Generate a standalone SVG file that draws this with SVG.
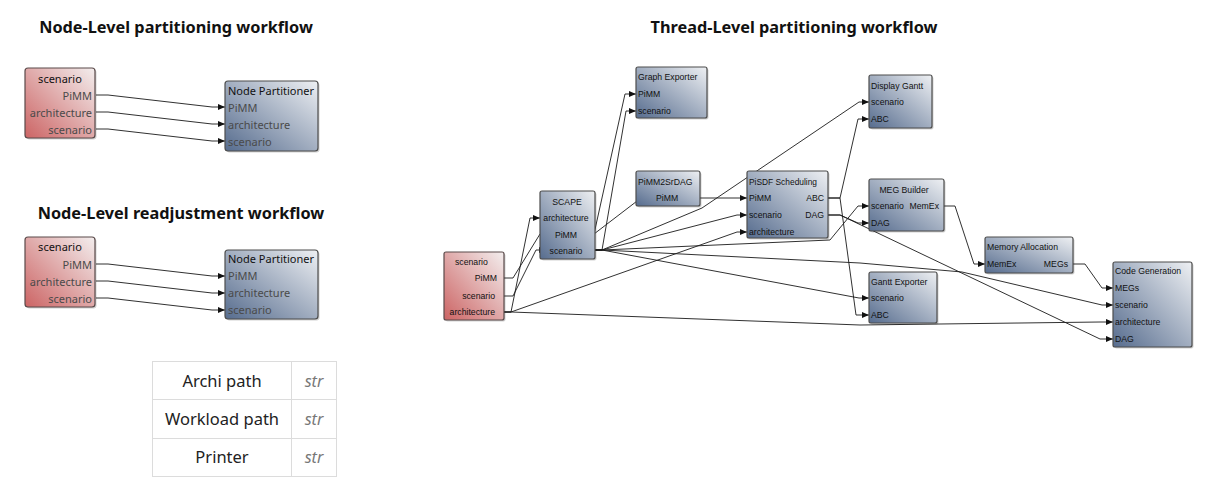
<svg xmlns="http://www.w3.org/2000/svg" width="1219" height="486" viewBox="0 0 1219 486">
<defs>
<linearGradient id="gBlue" x1="1" y1="0" x2="0" y2="1">
<stop offset="0" stop-color="#eef0f3"/>
<stop offset="1" stop-color="#566c8e"/>
</linearGradient>
<linearGradient id="gRed" x1="1" y1="0" x2="0" y2="1">
<stop offset="0" stop-color="#f3eeee"/>
<stop offset="1" stop-color="#cc6464"/>
</linearGradient>
<marker id="arr" markerUnits="userSpaceOnUse" markerWidth="8" markerHeight="8" refX="7" refY="4" orient="auto">
<path d="M0,1 L7,4 L0,7 z" fill="#111"/>
</marker>
</defs>
<style>
.title{font-family:"Noto Sans","Open Sans",sans-serif;font-weight:bold;font-size:16.3px;fill:#111;text-anchor:middle}
.bb{fill:url(#gBlue);stroke:#4d4d4d;stroke-width:1.2}
.rb{fill:url(#gRed);stroke:#5a4a4a;stroke-width:1.2}
.sh{fill:#000;opacity:0.18}
.lt{font-family:"Noto Sans","Open Sans",sans-serif;font-size:11px;fill:#111}
.lp{font-family:"Noto Sans","Open Sans",sans-serif;font-size:11px;fill:#4a4a4a}
.st{font-family:"Liberation Sans",Arial,sans-serif;font-size:8.7px;fill:#111}
.r{text-anchor:end}
.m{text-anchor:middle}
.c{fill:none;stroke:#1a1a1a;stroke-width:0.9}
.tb{fill:#fff;stroke:#dcdcdc;stroke-width:1}
.tt{font-family:"Noto Sans","Open Sans",sans-serif;font-size:16.5px;fill:#222;text-anchor:middle}
.ti{font-family:"Noto Sans","Open Sans",sans-serif;font-size:16px;font-style:italic;fill:#777;text-anchor:middle}
</style>
<rect width="1219" height="486" fill="#fff"/>

<text class="title" x="176" y="33">Node-Level partitioning workflow</text>
<text class="title" x="181" y="219">Node-Level readjustment workflow</text>
<text class="title" x="794" y="33">Thread-Level partitioning workflow</text>

<g id="connectors">
<polyline class="c" marker-end="url(#arr)" points="96,95 108,95 212,107 225,107"/>
<polyline class="c" marker-end="url(#arr)" points="96,112 108,112 212,124 225,124"/>
<polyline class="c" marker-end="url(#arr)" points="96,129 108,129 212,141 225,141"/>
<polyline class="c" marker-end="url(#arr)" points="96,264 108,264 212,276 225,276"/>
<polyline class="c" marker-end="url(#arr)" points="96,281 108,281 212,293 225,293"/>
<polyline class="c" marker-end="url(#arr)" points="96,298 108,298 212,310 225,310"/>
<polyline class="c" marker-end="url(#arr)" points="504,278 513,278 540,234 551,234"/>
<polyline class="c" marker-end="url(#arr)" points="504,296 513,296 536,250 546,250"/>
<polyline class="c" marker-end="url(#arr)" points="504,312 511,312 530,218 540,218"/>
<polyline class="c" marker-end="url(#arr)" points="504,312 511,312 737,232 747,232"/>
<polyline class="c" marker-end="url(#arr)" points="504,312 511,312 860,325 1100,322 1113,322"/>
<polyline class="c" marker-end="url(#arr)" points="583,234 594,234 625,94 636,94"/>
<polyline class="c" marker-end="url(#arr)" points="583,234 594,234 641,198 653,198"/>
<polyline class="c" marker-end="url(#arr)" points="590,250 602,250 626,111 636,111"/>
<polyline class="c" marker-end="url(#arr)" points="590,250 602,250 737,215 747,215"/>
<polyline class="c" marker-end="url(#arr)" points="590,250 602,250 702,208 859,102 869,102"/>
<polyline class="c" marker-end="url(#arr)" points="590,250 602,250 830,240 858,206 869,206"/>
<polyline class="c" marker-end="url(#arr)" points="590,250 602,250 859,298 869,298"/>
<polyline class="c" marker-end="url(#arr)" points="590,250 602,250 860,263 962,272 1102,305 1113,305"/>
<polyline class="c" marker-end="url(#arr)" points="683,198 747,198"/>
<polyline class="c" marker-end="url(#arr)" points="827,198 840,198 858,119 869,119"/>
<polyline class="c" marker-end="url(#arr)" points="827,198 840,198 856,315 869,315"/>
<polyline class="c" marker-end="url(#arr)" points="827,215 840,215 858,223 869,223"/>
<polyline class="c" marker-end="url(#arr)" points="827,215 840,215 1100,339 1113,339"/>
<polyline class="c" marker-end="url(#arr)" points="940,206 955,206 974,264 985,264"/>
<polyline class="c" marker-end="url(#arr)" points="1069,264 1085,264 1102,288 1113,288"/>
</g>

<g id="lt-scenario">
<rect class="sh" x="26.5" y="69.5" width="70" height="70" rx="3"/>
<rect class="rb" x="25" y="68" width="70" height="70" rx="3"/>
<text class="lt m" x="60" y="83">scenario</text>
<text class="lp r" x="92" y="99.5">PiMM</text>
<text class="lp r" x="92" y="116.5">architecture</text>
<text class="lp r" x="92" y="133.5">scenario</text>
</g>
<g id="lt-partitioner">
<rect class="sh" x="226.5" y="82.5" width="93" height="70" rx="3"/>
<rect class="bb" x="225" y="81" width="93" height="70" rx="3"/>
<text class="lt" x="228" y="95">Node Partitioner</text>
<text class="lp" x="228" y="111.5">PiMM</text>
<text class="lp" x="228" y="128.5">architecture</text>
<text class="lp" x="228" y="145.5">scenario</text>
</g>

<g id="lb-scenario">
<rect class="sh" x="26.5" y="238.5" width="70" height="70" rx="3"/>
<rect class="rb" x="25" y="237" width="70" height="70" rx="3"/>
<text class="lt m" x="60" y="251">scenario</text>
<text class="lp r" x="92" y="268.5">PiMM</text>
<text class="lp r" x="92" y="285.5">architecture</text>
<text class="lp r" x="92" y="302.5">scenario</text>
</g>
<g id="lb-partitioner">
<rect class="sh" x="226.5" y="251.5" width="93" height="69" rx="3"/>
<rect class="bb" x="225" y="250" width="93" height="69" rx="3"/>
<text class="lt" x="228" y="263">Node Partitioner</text>
<text class="lp" x="228" y="280">PiMM</text>
<text class="lp" x="228" y="297">architecture</text>
<text class="lp" x="228" y="314">scenario</text>
</g>

<g id="param-table">
<rect class="tb" x="152.5" y="361.5" width="184" height="115"/>
<line x1="152.5" y1="399.5" x2="336.5" y2="399.5" stroke="#dcdcdc"/>
<line x1="152.5" y1="438.5" x2="336.5" y2="438.5" stroke="#dcdcdc"/>
<line x1="291.5" y1="361.5" x2="291.5" y2="476.5" stroke="#dcdcdc"/>
<text class="tt" x="222" y="387">Archi path</text>
<text class="ti" x="314" y="387">str</text>
<text class="tt" x="222" y="425">Workload path</text>
<text class="ti" x="314" y="425">str</text>
<text class="tt" x="222" y="463">Printer</text>
<text class="ti" x="314" y="463">str</text>
</g>

<g id="rt-scenario">
<rect class="sh" x="445.5" y="253.5" width="60" height="68" rx="2"/>
<rect class="rb" x="444" y="252" width="60" height="68" rx="2"/>
<text class="st" x="455" y="265">scenario</text>
<text class="st r" x="497" y="281">PiMM</text>
<text class="st r" x="495" y="299">scenario</text>
<text class="st r" x="495" y="315">architecture</text>
</g>
<g id="scape">
<rect class="sh" x="541.5" y="192.5" width="55" height="68" rx="2"/>
<rect class="bb" x="540" y="191" width="55" height="68" rx="2"/>
<text class="st m" x="567" y="205">SCAPE</text>
<text class="st m" x="566" y="221">architecture</text>
<text class="st m" x="566" y="238">PiMM</text>
<text class="st m" x="566" y="254">scenario</text>
</g>
<g id="graph-exporter">
<rect class="sh" x="637.5" y="68.5" width="71" height="51" rx="2"/>
<rect class="bb" x="636" y="67" width="71" height="51" rx="2"/>
<text class="st" x="638" y="80">Graph Exporter</text>
<text class="st" x="638" y="97">PiMM</text>
<text class="st" x="638" y="114">scenario</text>
</g>
<g id="pimm2srdag">
<rect class="sh" x="637.5" y="172.5" width="64" height="35" rx="2"/>
<rect class="bb" x="636" y="171" width="64" height="35" rx="2"/>
<text class="st" x="638" y="185">PiMM2SrDAG</text>
<text class="st" x="656" y="201">PiMM</text>
</g>
<g id="pisdf-scheduling">
<rect class="sh" x="748.5" y="172.5" width="81" height="67" rx="2"/>
<rect class="bb" x="747" y="171" width="81" height="67" rx="2"/>
<text class="st" x="749" y="185" textLength="68" lengthAdjust="spacingAndGlyphs">PiSDF Scheduling</text>
<text class="st" x="749" y="201">PiMM</text>
<text class="st" x="749" y="218">scenario</text>
<text class="st" x="749" y="235">architecture</text>
<text class="st r" x="824" y="201">ABC</text>
<text class="st r" x="824" y="218">DAG</text>
</g>
<g id="display-gantt">
<rect class="sh" x="870.5" y="76.5" width="63" height="53" rx="2"/>
<rect class="bb" x="869" y="75" width="63" height="53" rx="2"/>
<text class="st" x="871" y="89">Display Gantt</text>
<text class="st" x="871" y="105">scenario</text>
<text class="st" x="871" y="122">ABC</text>
</g>
<g id="meg-builder">
<rect class="sh" x="870.5" y="180.5" width="75" height="52" rx="2"/>
<rect class="bb" x="869" y="179" width="75" height="52" rx="2"/>
<text class="st m" x="904" y="193">MEG Builder</text>
<text class="st" x="871" y="209">scenario</text>
<text class="st r" x="939" y="209">MemEx</text>
<text class="st" x="871" y="226">DAG</text>
</g>
<g id="memory-allocation">
<rect class="sh" x="986.5" y="238.5" width="88" height="36" rx="2"/>
<rect class="bb" x="985" y="237" width="88" height="36" rx="2"/>
<text class="st" x="987" y="250">Memory Allocation</text>
<text class="st" x="987" y="267">MemEx</text>
<text class="st r" x="1068" y="267">MEGs</text>
</g>
<g id="gantt-exporter">
<rect class="sh" x="870.5" y="273.5" width="68" height="51" rx="2"/>
<rect class="bb" x="869" y="272" width="68" height="51" rx="2"/>
<text class="st" x="871" y="285">Gantt Exporter</text>
<text class="st" x="871" y="301">scenario</text>
<text class="st" x="871" y="318">ABC</text>
</g>
<g id="code-generation">
<rect class="sh" x="1114.5" y="263.5" width="79" height="85" rx="2"/>
<rect class="bb" x="1113" y="262" width="79" height="85" rx="2"/>
<text class="st" x="1115" y="274">Code Generation</text>
<text class="st" x="1115" y="291">MEGs</text>
<text class="st" x="1115" y="308">scenario</text>
<text class="st" x="1115" y="325">architecture</text>
<text class="st" x="1115" y="342">DAG</text>
</g>
</svg>
